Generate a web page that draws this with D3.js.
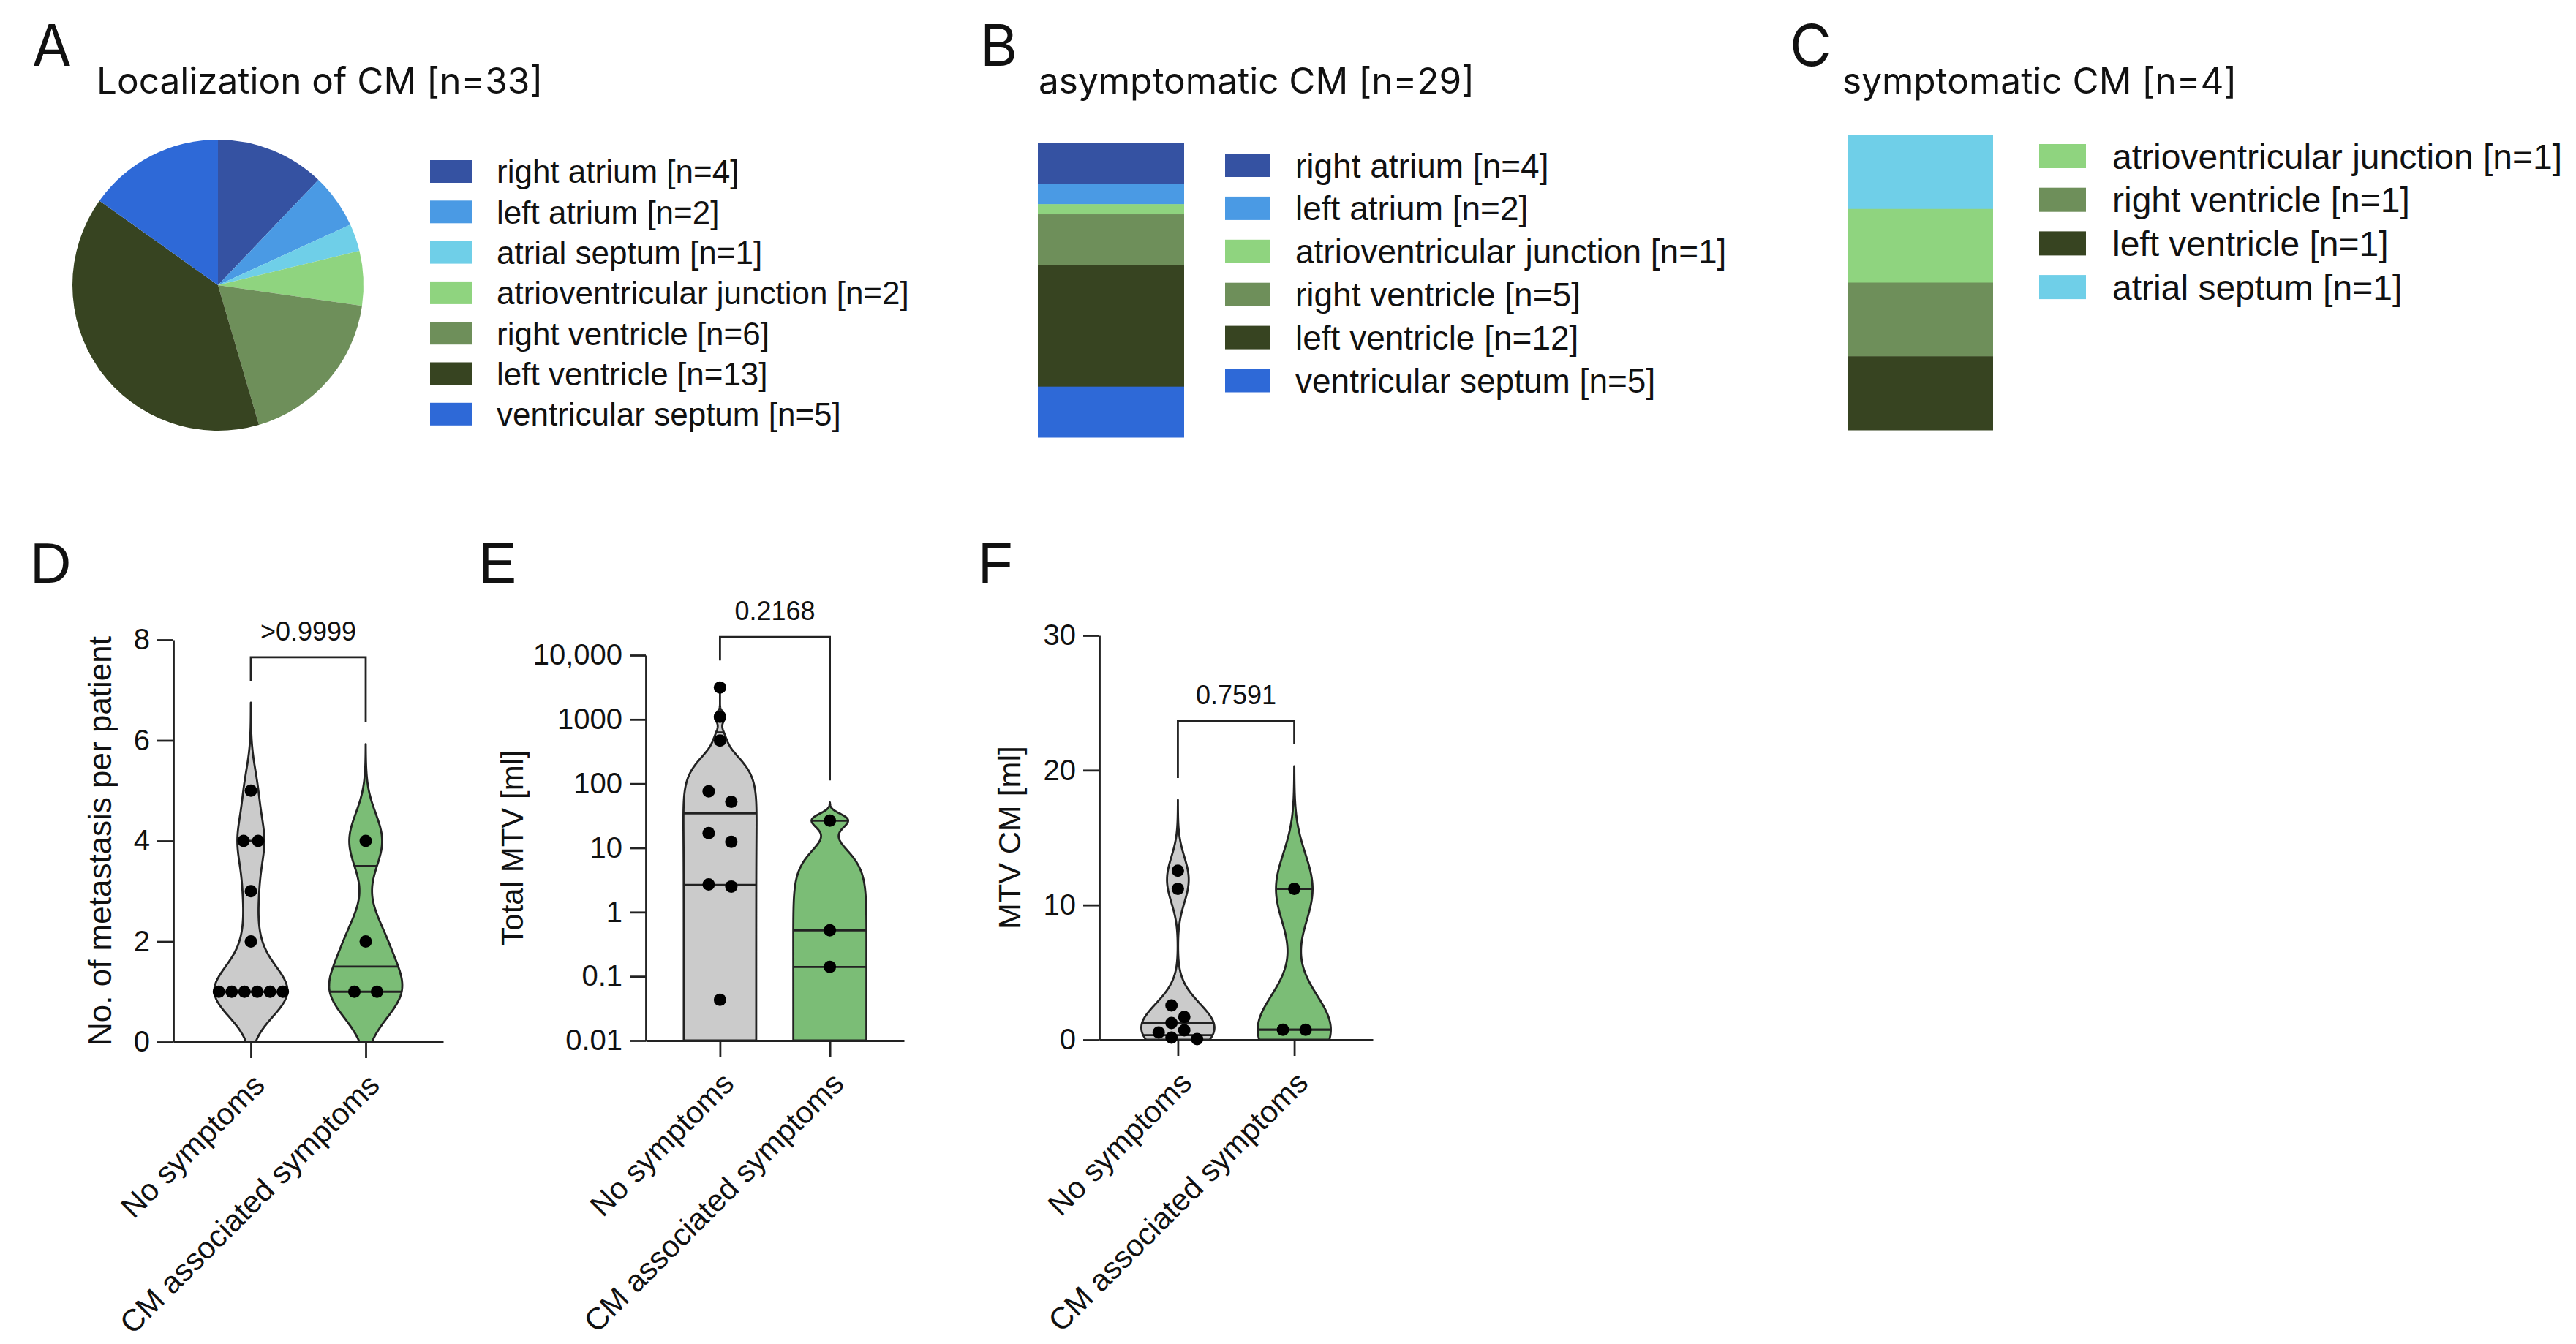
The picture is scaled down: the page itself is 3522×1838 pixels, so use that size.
<!DOCTYPE html>
<html><head><meta charset="utf-8">
<script src="https://cdn.jsdelivr.net/npm/d3@7"></script>
<style>body{margin:0;background:#fff}svg{display:block}</style>
</head><body>
<svg id="c" width="3522" height="1838"></svg>
<script>
// ---------- DATA ----------
const locCategories = ["right atrium","left atrium","atrial septum","atrioventricular junction","right ventricle","left ventricle","ventricular septum"];
const locCounts = [4,2,1,2,6,13,5];
const asymCategories = ["right atrium","left atrium","atrioventricular junction","right ventricle","left ventricle","ventricular septum"];
const asymCounts = [4,2,1,5,12,5];
const symCategories = ["atrioventricular junction","right ventricle","left ventricle","atrial septum"];
const symCounts = [1,1,1,1];
const symBarOrder = ["atrial septum","atrioventricular junction","right ventricle","left ventricle"]; // top to bottom
const categoryColors = ["#3552a2","#4a9ae4","#6fcfe8","#8fd47f","#6e8f5a","#374421","#2e69d7"]; // same order as locCategories

const groups = ["No symptoms","CM associated symptoms"];
const metNoSymptoms = [5,4,4,3,2,1,1,1,1,1,1];
const metSymptoms = [4,2,1,1];
const mtvTotalNoSymptoms = [3140,1100,470,76,52,17,12.4,2.7,2.5,0.043];
const mtvTotalSymptoms = [26.5,0.52,0.14];
const mtvCmNoSymptoms = [12.55,11.2,2.55,1.7,1.25,0.7,0.54,0.16,0.05];
const mtvCmSymptoms = [11.2,0.75,0.75];
const pValues = [">0.9999","0.2168","0.7591"];
const ticksD = [0,2,4,6,8];
const ticksE = [0.01,0.1,1,10,100,1000,10000];
const tickLabelsE = ["0.01","0.1","1","10","100","1000","10,000"];
const ticksF = [0,10,20,30];
const smoothD = [0.5,0.55];
const smoothE = [180,7];
const smoothF = [1.5,2.6];

// ---------- SETUP ----------
const svg = d3.select("#c");
const FONT = "'Liberation Sans', Arial, Helvetica, sans-serif";
const TFONT = "Inter, 'Liberation Sans', sans-serif";
const INK = "#222";
const colorOf = d3.scaleOrdinal().domain(locCategories).range(categoryColors);

function letter(t, x, y, fam){
  svg.append("text").attr("x",x).attr("y",y).attr("font-family",fam).attr("font-size",78).attr("fill","#111").text(t);
}
letter("A",44,90,TFONT); letter("B",1340,90,TFONT); letter("C",2447,90,TFONT);
letter("D",41,797,FONT); letter("E",654,797,FONT); letter("F",1337,797,FONT);

function title(t,x){
  svg.append("text").attr("x",x).attr("y",128).attr("font-family",TFONT).attr("font-size",49.5).attr("fill","#111").text(t);
}
title("Localization of CM [n=33]",132);
title("asymptomatic CM [n=29]",1420);
title("symptomatic CM [n=4]",2519);

function legend(names, counts, sx, sw, sh, top0, pitch, tx, fs){
  const g = svg.append("g");
  names.forEach((n,i)=>{
    const t = top0 + i*pitch;
    g.append("rect").attr("x",sx).attr("y",t).attr("width",sw).attr("height",sh).attr("fill",colorOf(n));
    g.append("text").attr("x",tx).attr("y",t+sh/2).attr("dy","0.36em").attr("font-family",FONT).attr("font-size",fs).attr("fill","#111").text(`${n} [n=${counts[i]}]`);
  });
}

// ---------- A: pie ----------
const pie = d3.pie().sort(null)(locCounts);
const arc = d3.arc().innerRadius(0).outerRadius(199);
svg.append("g").attr("transform","translate(298,390)")
  .selectAll("path").data(pie).join("path")
  .attr("d",arc).attr("fill",(d,i)=>colorOf(locCategories[i]));
legend(locCategories, locCounts, 588, 58, 31, 219, 55.3, 679, 44);

// ---------- B / C: stacked bars ----------
function stackBar(names, counts, x0, w, y0, y1){
  const y = d3.scaleLinear().domain([0,d3.sum(counts)]).range([y0,y1]);
  const cum = [0, ...d3.cumsum(counts)];
  svg.append("g").selectAll("rect").data(names).join("rect")
    .attr("x",x0).attr("width",w)
    .attr("y",(d,i)=>y(cum[i])).attr("height",(d,i)=>y(cum[i+1])-y(cum[i])+0.5)
    .attr("fill",d=>colorOf(d));
}
stackBar(asymCategories, asymCounts, 1419, 200, 196, 598);
legend(asymCategories, asymCounts, 1675, 61, 32, 210, 58.9, 1771, 46);
const symBarCounts = symBarOrder.map(n=>symCounts[symCategories.indexOf(n)]);
stackBar(symBarOrder, symBarCounts, 2526, 199, 185, 588);
legend(symCategories, symCounts, 2788, 64, 33, 197, 59.7, 2888, 48);

// ---------- violin panels ----------
function prismQ(vals,p){
  const s = vals.slice().sort((a,b)=>a-b), n = s.length, pos = (n+1)*p;
  if(pos<=1) return s[0]; if(pos>=n) return s[n-1];
  const i = Math.floor(pos); return s[i-1] + (pos-i)*(s[i]-s[i-1]);
}

function placeDots(vals, y, hw, r){
  const sorted = vals.slice().sort((a,b)=>b-a).map(v=>({v, py:y(v)}));
  const clusters = [];
  sorted.forEach((p,i)=>{
    if(i>0 && Math.abs(p.py - sorted[i-1].py) < 2*r) clusters[clusters.length-1].push(p);
    else clusters.push([p]);
  });
  const out = [];
  clusters.forEach(cl=>{
    if(cl.length===1){ out.push({v:cl[0].v, py:cl[0].py, dx:0}); return; }
    const hwMin = d3.min(cl, p=>hw(p.v));
    for(let k=2;k<=cl.length;k++){
      const s = Math.max(2*r+0.5, Math.min(31, (2*hwMin-2*r)/(k-1)));
      const cols = d3.range(k).map(j=>(j-(k-1)/2)*s).sort((a,b)=>Math.abs(a)-Math.abs(b) || a-b);
      const last = new Map();
      const res = [];
      let ok = true;
      for(const p of cl){
        const c = cols.find(c=>!last.has(c) || Math.abs(last.get(c)-p.py) >= 2*r);
        if(c===undefined){ ok=false; break; }
        last.set(c,p.py); res.push({v:p.v, py:p.py, dx:c});
      }
      if(ok){ out.push(...res); return; }
    }
  });
  return out;
}

function violinPanel(cfg){
  const g = svg.append("g");
  const y = (cfg.log ? d3.scaleLog() : d3.scaleLinear()).domain(cfg.domain).range([cfg.yBottom, cfg.yTop]);
  const x = d3.scalePoint().domain(groups).range([cfg.axisX, cfg.xEnd]).padding(0.675);
  // axes
  const ya = d3.axisLeft(y).tickValues(cfg.ticks).tickSize(22).tickSizeOuter(0).tickPadding(10)
    .tickFormat((d,i)=>cfg.tickLabels ? cfg.tickLabels[i] : d);
  const yg = g.append("g").attr("transform",`translate(${cfg.axisX},0)`).call(ya);
  const xa = d3.axisBottom(x).tickSize(22).tickSizeOuter(0).tickFormat("");
  const xg = g.append("g").attr("transform",`translate(0,${cfg.yBottom})`).call(xa);
  [yg,xg].forEach(a=>{
    a.selectAll("path,line").attr("stroke",INK).attr("stroke-width",2.8);
    a.selectAll("text").attr("font-family",FONT).attr("font-size",40).attr("fill","#111");
  });
  // x labels
  groups.forEach(gn=>{
    g.append("text").attr("transform",`translate(${x(gn)},${cfg.yBottom+40}) rotate(-45)`)
      .attr("text-anchor","end").attr("dy","0.72em").attr("font-family",FONT).attr("font-size",42).attr("fill","#111").text(gn);
  });
  // y title
  g.append("text").attr("transform",`translate(${cfg.labelX},${(cfg.yTop+cfg.yBottom)/2}) rotate(-90)`)
    .attr("text-anchor","middle").attr("dominant-baseline","central").attr("font-family",FONT).attr("font-size",cfg.labelSize).attr("fill","#111").text(cfg.yLabel);
  // violins
  const tops = [];
  cfg.series.forEach((vals,si)=>{
    const h = cfg.smooth[si], cx = x(groups[si]);
    const kde = v => d3.sum(vals, d=>Math.exp(-0.5*((v-d)/h)**2));
    const lo = Math.max(cfg.domain[0], d3.min(vals)-3.5*h), hi = d3.max(vals)+3.5*h;
    const pyLo = y(lo), pyHi = y(hi), N = 400;
    const pts = d3.range(N+1).map(i=>{ const py = pyLo+(pyHi-pyLo)*i/N; return {py, d:kde(y.invert(py))}; });
    const dmax = d3.max(pts,p=>p.d), HW = 50;
    const hw = v => HW*kde(v)/dmax;
    const area = d3.area().y(p=>p.py).x0(p=>cx-HW*p.d/dmax).x1(p=>cx+HW*p.d/dmax);
    g.append("path").attr("d",area(pts)).attr("fill",cfg.fills[si]).attr("stroke",INK).attr("stroke-width",2.8).attr("stroke-linejoin","round");
    [0.25,0.5,0.75].forEach(p=>{
      const v = prismQ(vals,p), w = hw(v);
      g.append("line").attr("x1",cx-w).attr("x2",cx+w).attr("y1",y(v)).attr("y2",y(v)).attr("stroke",INK).attr("stroke-width",2.8);
    });
    placeDots(vals, y, hw, 8.5).forEach(d=>{
      g.append("circle").attr("cx",cx+d.dx).attr("cy",d.py).attr("r",8.5).attr("fill","#000");
    });
    tops.push(pyHi - 30);
  });
  // bracket
  const by = d3.min(tops) - 32;
  const x0 = x(groups[0]), x1 = x(groups[1]);
  g.append("path").attr("d",`M${x0},${tops[0]}V${by}H${x1}V${tops[1]}`).attr("fill","none").attr("stroke",INK).attr("stroke-width",2.8);
  g.append("text").attr("x",(x0+x1)/2).attr("y",by-23).attr("text-anchor","middle").attr("font-family",FONT).attr("font-size",36).attr("fill","#111").text(cfg.p);
}

violinPanel({axisX:237,xEnd:606,yTop:875,yBottom:1425,domain:[0,8],ticks:ticksD,yLabel:"No. of metastasis per patient",labelX:136,labelSize:44,
  series:[metNoSymptoms,metSymptoms],smooth:smoothD,fills:["#cbcbcb","#7bbd76"],p:pValues[0]});
violinPanel({axisX:883,xEnd:1236,yTop:896,yBottom:1423,domain:[0.01,10000],log:true,ticks:ticksE,tickLabels:tickLabelsE,yLabel:"Total MTV [ml]",labelX:700,labelSize:42,
  series:[mtvTotalNoSymptoms,mtvTotalSymptoms],smooth:smoothE,fills:["#cbcbcb","#7bbd76"],p:pValues[1]});
violinPanel({axisX:1503,xEnd:1877,yTop:869,yBottom:1422,domain:[0,30],ticks:ticksF,yLabel:"MTV CM [ml]",labelX:1380,labelSize:43,
  series:[mtvCmNoSymptoms,mtvCmSymptoms],smooth:smoothF,fills:["#cbcbcb","#7bbd76"],p:pValues[2]});
</script>
</body></html>
